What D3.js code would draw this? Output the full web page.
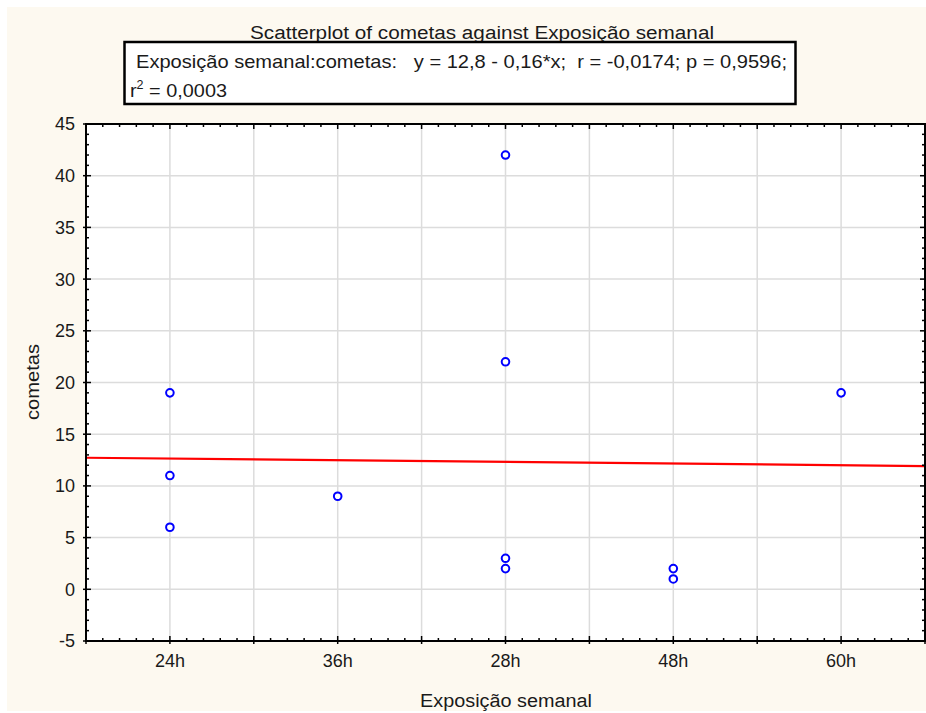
<!DOCTYPE html>
<html>
<head>
<meta charset="utf-8">
<script src="https://cdn.jsdelivr.net/npm/d3@7"></script>
<style>
  html, body { margin: 0; padding: 0; background: #ffffff; }
  svg { display: block; }
  text { font-family: "Liberation Sans", Arial, sans-serif; fill: #1a1a1a; }
</style>
</head>
<body>
<svg id="chart" width="926" height="713"></svg>
<script>
// ---- data ----
const categories = ["24h", "36h", "28h", "48h", "60h"];
const pointCategory = ["24h", "24h", "24h", "36h", "28h", "28h", "28h", "28h", "48h", "48h", "60h"];
const cometas = [19, 11, 6, 9, 42, 22, 3, 2, 2, 1, 19];
const yTicks = [-5, 0, 5, 10, 15, 20, 25, 30, 35, 40, 45];
const fitIntercept = 12.8;
const fitSlope = -0.16;
const titleText = "Scatterplot of cometas against Exposição semanal";
const statsLine1 = "Exposição semanal:cometas:   y = 12,8 - 0,16*x;  r = -0,0174; p = 0,9596;";
const xLabel = "Exposição semanal";
const yLabel = "cometas";

// ---- layout ----
const svg = d3.select("#chart");
const W = 926, H = 713;
const plot = { left: 86, right: 925, top: 124, bottom: 641 };

svg.append("rect").attr("x", 7).attr("y", 7).attr("width", W - 7).attr("height", H - 9)
  .attr("fill", "#fdf9f0");

const x = d3.scaleLinear().domain([0.5, categories.length + 0.5]).range([plot.left, plot.right]);
const y = d3.scaleLinear().domain([-5, 45]).range([plot.bottom, plot.top]);
const catPos = c => categories.indexOf(c) + 1;

// plot background
svg.append("rect").attr("x", plot.left).attr("y", plot.top)
  .attr("width", plot.right - plot.left).attr("height", plot.bottom - plot.top)
  .attr("fill", "#ffffff");

// gridlines
const xMajor = d3.range(0.5, categories.length + 0.5001, 0.5);
const xMinor = d3.range(0.5, categories.length + 0.5001, 0.1);
const yMinor = d3.range(-5, 45.001, 1);
const grid = svg.append("g").attr("stroke", "#dcdcdc").attr("stroke-width", 1.5);
grid.selectAll("line.vx").data(xMajor.slice(1, -1)).join("line")
  .attr("x1", d => x(d)).attr("x2", d => x(d)).attr("y1", plot.top).attr("y2", plot.bottom);
grid.selectAll("line.hy").data(yTicks.slice(1, -1)).join("line")
  .attr("y1", d => y(d)).attr("y2", d => y(d)).attr("x1", plot.left).attr("x2", plot.right);

// regression line
const fit = d3.line().x(d => x(d)).y(d => y(fitIntercept + fitSlope * d));
svg.append("path").datum(x.domain()).attr("d", fit)
  .attr("fill", "none").attr("stroke", "#ff0000").attr("stroke-width", 2.2);

// points
svg.append("g").selectAll("circle").data(cometas).join("circle")
  .attr("cx", (d, i) => x(catPos(pointCategory[i])))
  .attr("cy", d => y(d))
  .attr("r", 3.8)
  .attr("fill", "#ffffff").attr("stroke", "#0000ff").attr("stroke-width", 2);

// axes ticks
const tk = svg.append("g").attr("stroke", "#000").attr("stroke-width", 1.5);
const isMajorX = d => Math.abs(d * 2 - Math.round(d * 2)) < 1e-6;
tk.selectAll("line.bx").data(xMinor).join("line")
  .attr("x1", d => x(d)).attr("x2", d => x(d))
  .attr("y1", plot.bottom).attr("y2", d => plot.bottom - (isMajorX(d) ? 5 : 3));
tk.selectAll("line.bxo").data(xMajor).join("line")
  .attr("x1", d => x(d)).attr("x2", d => x(d))
  .attr("y1", plot.bottom).attr("y2", plot.bottom + 3);
tk.selectAll("line.tx").data(xMinor).join("line")
  .attr("x1", d => x(d)).attr("x2", d => x(d))
  .attr("y1", plot.top).attr("y2", d => plot.top + (isMajorX(d) ? 5 : 3));
tk.selectAll("line.ly").data(yMinor).join("line")
  .attr("y1", d => y(d)).attr("y2", d => y(d))
  .attr("x1", plot.left).attr("x2", d => plot.left + (d % 5 === 0 ? 5 : 3));
tk.selectAll("line.lyo").data(yTicks).join("line")
  .attr("y1", d => y(d)).attr("y2", d => y(d))
  .attr("x1", plot.left).attr("x2", plot.left - 3);
tk.selectAll("line.ry").data(yMinor).join("line")
  .attr("y1", d => y(d)).attr("y2", d => y(d))
  .attr("x1", plot.right).attr("x2", d => plot.right - (d % 5 === 0 ? 5 : 3));

// frame
svg.append("rect").attr("x", plot.left).attr("y", plot.top)
  .attr("width", plot.right - plot.left).attr("height", plot.bottom - plot.top)
  .attr("fill", "none").attr("stroke", "#000").attr("stroke-width", 2);

// tick labels
svg.append("g").selectAll("text").data(yTicks).join("text")
  .attr("x", 75).attr("y", d => y(d)).attr("dy", "0.36em")
  .attr("text-anchor", "end").attr("font-size", 18).text(d => d);
svg.append("g").selectAll("text").data(categories).join("text")
  .attr("x", (d, i) => x(i + 1)).attr("y", 667)
  .attr("text-anchor", "middle").attr("font-size", 18).text(d => d);

// axis titles
svg.append("text").attr("x", 506).attr("y", 707).attr("text-anchor", "middle")
  .attr("font-size", 18).attr("textLength", 172).attr("lengthAdjust", "spacingAndGlyphs").text(xLabel);
svg.append("text").attr("transform", "translate(39,382) rotate(-90)").attr("text-anchor", "middle")
  .attr("font-size", 18).attr("textLength", 76).attr("lengthAdjust", "spacingAndGlyphs").text(yLabel);

// title
svg.append("text").attr("x", 482).attr("y", 39).attr("text-anchor", "middle")
  .attr("font-size", 18).attr("textLength", 464).attr("lengthAdjust", "spacingAndGlyphs").text(titleText);

// stats box
svg.append("rect").attr("x", 124.5).attr("y", 42).attr("width", 671).attr("height", 62)
  .attr("fill", "#ffffff").attr("stroke", "#000").attr("stroke-width", 2.5);
svg.append("text").attr("x", 136).attr("y", 68).attr("font-size", 19)
  .attr("textLength", 651).attr("lengthAdjust", "spacingAndGlyphs")
  .attr("xml:space", "preserve").style("white-space", "pre").text(statsLine1);
const r2 = svg.append("text").attr("x", 130).attr("y", 97).attr("font-size", 19)
  .attr("textLength", 97).attr("lengthAdjust", "spacingAndGlyphs");
r2.append("tspan").text("r");
r2.append("tspan").attr("dy", -8).attr("font-size", 12).text("2");
r2.append("tspan").attr("dy", 8).text(" = 0,0003");
</script>
</body>
</html>
